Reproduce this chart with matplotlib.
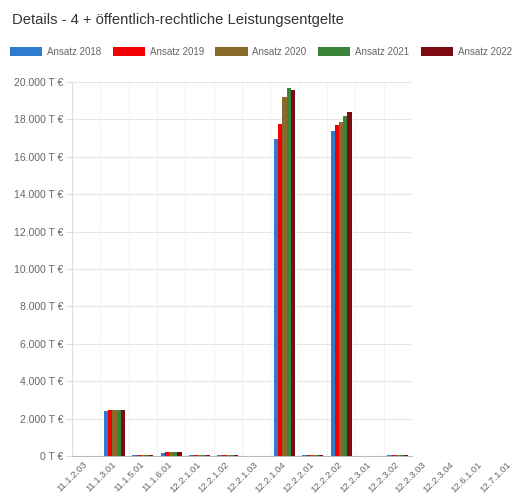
import matplotlib
matplotlib.use("Agg")
import matplotlib.pyplot as plt
import numpy as np
from matplotlib.transforms import offset_copy

plt.rcParams['font.family'] = ['Liberation Sans', 'DejaVu Sans']

categories = ['11.1.2.03', '11.1.3.01', '11.1.5.01', '11.1.6.01', '12.2.1.01',
              '12.2.1.02', '12.2.1.03', '12.2.1.04', '12.2.2.01', '12.2.2.02',
              '12.2.3.01', '12.2.3.02', '12.2.3.03', '12.2.3.04', '12.6.1.01',
              '12.7.1.01']
visible = 12  # the chart canvas only shows the first twelve groups

series = ['Ansatz 2018', 'Ansatz 2019', 'Ansatz 2020', 'Ansatz 2021', 'Ansatz 2022']
colors = ['#2f7bd0', '#f00000', '#8a6a2a', '#3a843a', '#7d0a12']

ansatz_2018 = [0, 2380, 40, 180, 50, 30, 0, 16930, 30, 17400, 0, 50, 0, 0, 0, 0]
ansatz_2019 = [0, 2450, 40, 190, 50, 30, 0, 17750, 30, 17680, 0, 60, 0, 0, 0, 0]
ansatz_2020 = [0, 2450, 40, 190, 50, 30, 0, 19180, 30, 17880, 0, 60, 0, 0, 0, 0]
ansatz_2021 = [0, 2450, 40, 190, 50, 30, 0, 19660, 30, 18180, 0, 60, 0, 0, 0, 0]
ansatz_2022 = [0, 2450, 40, 190, 50, 30, 0, 19570, 30, 18400, 0, 60, 0, 0, 0, 0]
values = [ansatz_2018, ansatz_2019, ansatz_2020, ansatz_2021, ansatz_2022]

y_ticks = list(range(0, 20001, 2000))


def euro(v):
    return '{:,}'.format(int(v)).replace(',', '.') + ' T €'


fig = plt.figure(figsize=(5.12, 4.96), dpi=100)
ax = fig.add_axes([72 / 512, 40 / 496, 340 / 512, 374 / 496])

x = np.arange(visible)
group = 0.74
w = group / len(series)
for k, (name, vals, c) in enumerate(zip(series, values, colors)):
    ax.bar(x - group / 2 + w * (k + 0.5), vals[:visible], width=w * 0.98,
           color=c, label=name, zorder=3)

ax.set_xlim(-0.5, visible - 0.5)
ax.set_ylim(0, 20000)
ax.set_yticks(y_ticks)
ax.set_yticklabels([euro(v) for v in y_ticks])
ax.set_xticks(x)
ax.set_xticklabels(categories[:visible], rotation=45, ha='right',
                   rotation_mode='anchor', va='center')
ax.tick_params(axis='x', length=0, pad=5, labelsize=6.8, labelcolor='#666666')
ax.tick_params(axis='y', length=4, width=0.8, color='#dddddd', pad=2,
               labelsize=7.5, labelcolor='#666666')

# faint category separators and horizontal grid
for b in np.arange(-0.5, visible, 1.0):
    ax.axvline(b, color='#f3f3f3', lw=0.8, zorder=0)
ax.yaxis.grid(True, color='#e6e6e6', lw=0.8, zorder=0)
ax.set_axisbelow(True)
for s in ['top', 'right']:
    ax.spines[s].set_visible(False)
ax.spines['left'].set_color('#dddddd')
ax.spines['bottom'].set_color('#bbbbbb')

# labels of the groups that fall outside the canvas
trans = offset_copy(ax.get_xaxis_transform(), fig=fig, x=-1.5, y=-5, units='points')
for i in range(visible, len(categories)):
    ax.text(i, 0, categories[i], transform=trans, rotation=45, ha='right',
            va='center', rotation_mode='anchor', fontsize=6.8, color='#666666',
            clip_on=False)

fig.text(12 / 512, 1 - 20 / 496, 'Details - 4 + öffentlich-rechtliche Leistungsentgelte',
         fontsize=10.6, color='#333333', va='center', ha='left')

fig.legend(loc='center left', bbox_to_anchor=(6 / 512, 1 - 52 / 496), ncol=5,
           frameon=False, fontsize=7, handlelength=3.3, handleheight=1.0,
           handletextpad=0.5, columnspacing=1.2, labelcolor='#666666',
           borderaxespad=0)

fig.savefig('out.png', dpi=100, facecolor='white')
